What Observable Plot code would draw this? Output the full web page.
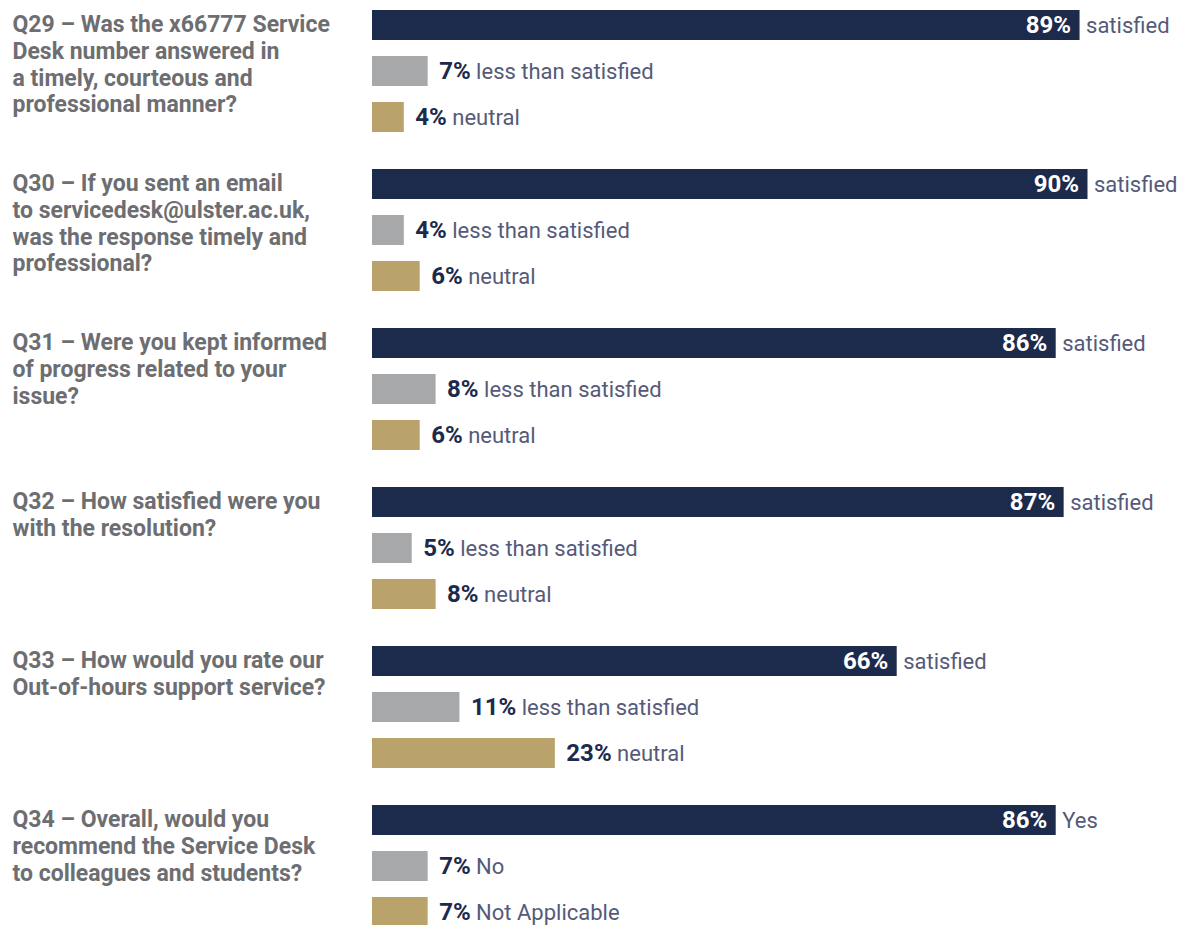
<!DOCTYPE html>
<html>
<head>
<meta charset="utf-8">
<script src="https://cdn.jsdelivr.net/npm/d3@7"></script>
<script src="https://cdn.jsdelivr.net/npm/@observablehq/plot@0.6"></script>
<style>
  html, body { margin: 0; padding: 0; background: #fff; overflow: hidden; }
  #chart { width: 1182px; height: 925px; overflow: hidden; }
</style>
</head>
<body>
<div id="chart"></div>
<script>
// ---- data ----
const questionIds = ["Q29", "Q30", "Q31", "Q32", "Q33", "Q34"];
const questionTexts = [
  "Q29 – Was the x66777 Service\nDesk number answered in\na timely, courteous and\nprofessional manner?",
  "Q30 – If you sent an email\nto servicedesk@ulster.ac.uk,\nwas the response timely and\nprofessional?",
  "Q31 – Were you kept informed\nof progress related to your\nissue?",
  "Q32 – How satisfied were you\nwith the resolution?",
  "Q33 – How would you rate our\nOut-of-hours support service?",
  "Q34 – Overall, would you\nrecommend the Service Desk\nto colleagues and students?"
];
const answerKinds = ["first", "second", "third"];
const firstValues  = [89, 90, 86, 87, 66, 86];
const secondValues = [7, 4, 8, 5, 11, 7];
const thirdValues  = [4, 6, 6, 8, 23, 7];
const answerLabels = [
  ["satisfied", "less than satisfied", "neutral"],
  ["satisfied", "less than satisfied", "neutral"],
  ["satisfied", "less than satisfied", "neutral"],
  ["satisfied", "less than satisfied", "neutral"],
  ["satisfied", "less than satisfied", "neutral"],
  ["Yes", "No", "Not Applicable"]
];

// ---- styling ----
const navy = "#1c2a4c", grey = "#a7a8aa", gold = "#b9a36a";
const qColor = "#6d6e71", catColor = "#555a79";
const FONT = "Roboto, 'Noto Sans', sans-serif";

// ---- build tables ----
const rows = [];
questionIds.forEach((q, i) => {
  const vals = [firstValues[i], secondValues[i], thirdValues[i]];
  answerKinds.forEach((k, j) => {
    rows.push({q, kind: k, value: vals[j], pct: vals[j] + "%", label: answerLabels[i][j]});
  });
});
const qRows = questionIds.map((q, i) => ({q, text: questionTexts[i]}));
const firstRows = rows.filter(d => d.kind === "first");
const otherRows = rows.filter(d => d.kind !== "first");

const svg = Plot.plot({
  width: 1182,
  height: 928,
  marginLeft: 372,
  marginRight: 15,
  marginTop: 10,
  marginBottom: 0,
  style: {fontFamily: FONT, background: "#fff"},
  x: {domain: [0, 100], axis: null},
  y: {domain: answerKinds, axis: null, paddingInner: 0.35, paddingOuter: 0, align: 0},
  fy: {domain: questionIds, axis: null, paddingInner: 0.2337, paddingOuter: 0, align: 0},
  color: {domain: answerKinds, range: [navy, grey, gold]},
  marks: [
    Plot.barX(rows, {x: "value", y: "kind", fy: "q", fill: "kind"}),
    Plot.text(qRows, {
      fy: "q", text: "text", frameAnchor: "top-left", dx: -360, dy: 3,
      lineAnchor: "top", textAnchor: "start", lineHeight: 1.16,
      fontSize: 23, fontWeight: "bold", fill: qColor
    }),
    Plot.text(firstRows, {
      x: "value", y: "kind", fy: "q", text: "pct", textAnchor: "end", dx: -9,
      fontSize: 24, fontWeight: "bold", fill: "#fff"
    }),
    Plot.text(firstRows, {
      x: "value", y: "kind", fy: "q", text: "label", textAnchor: "start", dx: 6,
      fontSize: 22, fill: catColor
    }),
    Plot.text(otherRows, {
      x: "value", y: "kind", fy: "q", text: d => d.pct + " " + d.label,
      textAnchor: "start", dx: 11, fontSize: 22, fill: catColor, className: "outlab"
    })
  ]
});

// split the outside labels into a bold percentage and a regular answer text
const ns = "http://www.w3.org/2000/svg";
svg.querySelectorAll(".outlab text").forEach(t => {
  const s = t.textContent;
  const i = s.indexOf(" ");
  if (i < 0) return;
  t.textContent = "";
  const a = document.createElementNS(ns, "tspan");
  a.setAttribute("font-weight", "bold");
  a.setAttribute("font-size", "24");
  a.setAttribute("fill", navy);
  a.textContent = s.slice(0, i);
  const b = document.createElementNS(ns, "tspan");
  b.setAttribute("font-size", "22");
  b.textContent = s.slice(i);
  t.appendChild(a);
  t.appendChild(b);
});

document.getElementById("chart").appendChild(svg);
</script>
</body>
</html>
